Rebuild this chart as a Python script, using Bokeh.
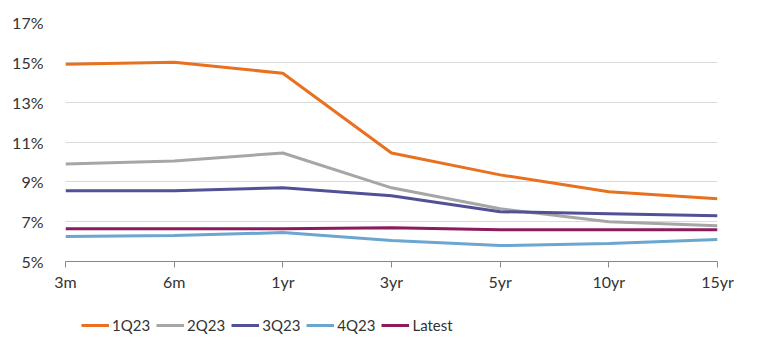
from bokeh.plotting import figure
from bokeh.models import Range1d, FixedTicker, Legend, LegendItem, ColumnDataSource
from bokeh.layouts import column
from bokeh.embed import file_html
from bokeh.resources import INLINE

tenors = ["3m", "6m", "1yr", "3yr", "5yr", "10yr", "15yr"]
q1_23 = [14.9, 15.0, 14.45, 10.45, 9.35, 8.5, 8.15]
q2_23 = [9.9, 10.05, 10.45, 8.7, 7.65, 7.0, 6.8]
q3_23 = [8.55, 8.55, 8.7, 8.3, 7.5, 7.4, 7.3]
q4_23 = [6.25, 6.3, 6.45, 6.05, 5.8, 5.9, 6.1]
latest = [6.65, 6.65, 6.65, 6.7, 6.6, 6.6, 6.6]
series_names = ["1Q23", "2Q23", "3Q23", "4Q23", "Latest"]
y_ticks = [5, 7, 9, 11, 13, 15, 17]

colors = ["#E8701E", "#A6A6A6", "#525096", "#6AA6D0", "#8C1A5E"]
FONT = "Lato"
TXT = "#333333"

xs = list(range(len(tenors)))
all_series = [q1_23, q2_23, q3_23, q4_23, latest]

p = figure(width=759, height=300, output_backend="svg", toolbar_location=None,
           x_range=Range1d(0, len(tenors) - 1), y_range=Range1d(5, 17),
           min_border_left=65, min_border_right=42, min_border_top=22, min_border_bottom=39)
p.outline_line_color = None
p.background_fill_color = "white"
p.border_fill_color = "white"

p.xaxis.ticker = FixedTicker(ticks=xs)
p.xaxis.major_label_overrides = {i: t for i, t in enumerate(tenors)}
p.yaxis.ticker = FixedTicker(ticks=y_ticks)
p.yaxis.major_label_overrides = {v: f"{v}%" for v in y_ticks}

p.xgrid.grid_line_color = None
p.ygrid.grid_line_color = "#D9D9D9"
p.ygrid.grid_line_width = 1

p.yaxis.axis_line_color = None
p.yaxis.major_tick_line_color = None
p.yaxis.minor_tick_line_color = None
p.yaxis.major_label_standoff = 16
p.xaxis.axis_line_color = "#888888"
p.xaxis.major_tick_line_color = "#888888"
p.xaxis.major_tick_out = 6
p.xaxis.major_tick_in = 0
p.xaxis.minor_tick_line_color = None
p.xaxis.major_label_standoff = 4
for ax in (p.xaxis, p.yaxis):
    ax.major_label_text_font = FONT
    ax.major_label_text_font_size = "16px"
    ax.major_label_text_color = TXT

for vals, c in zip(all_series, colors):
    src = ColumnDataSource(dict(x=xs, y=vals))
    p.line("x", "y", source=src, line_color=c, line_width=3)

# legend strip below the chart (series drawn out of view, only legend shows)
lg = figure(width=759, height=56, output_backend="svg", toolbar_location=None,
            x_range=Range1d(0, 1), y_range=Range1d(0, 1),
            x_axis_location=None, y_axis_location=None,
            min_border_left=0, min_border_right=0, min_border_top=0, min_border_bottom=0)
lg.grid.visible = False
lg.outline_line_color = None
items = []
for name, vals, c in zip(series_names, all_series, colors):
    r = lg.line(x=xs, y=vals, line_color=c, line_width=3)
    items.append(LegendItem(label=name, renderers=[r]))
legend = Legend(items=items, orientation="horizontal", location=(16, 21),
                label_text_font=FONT, label_text_font_size="15px", label_text_color=TXT,
                glyph_width=28, label_standoff=3, spacing=6, border_line_color=None,
                background_fill_alpha=0, margin=0, padding=0)
lg.add_layout(legend, "center")

layout = column(p, lg, spacing=0)
open("out.html", "w").write(file_html(layout, INLINE))
